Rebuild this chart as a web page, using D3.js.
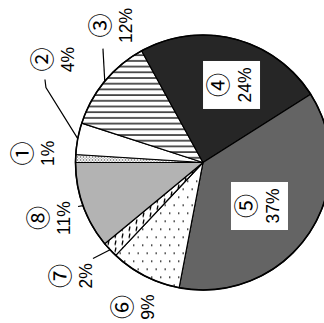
<!DOCTYPE html>
<html><head><meta charset="utf-8">
<script src="https://cdn.jsdelivr.net/npm/d3@7"></script>
<style>html,body{margin:0;padding:0;background:#fff}</style>
</head><body>
<svg id="c" width="324" height="323"></svg>
<script>
// ---- data ----
const categories = ["①","②","③","④","⑤","⑥","⑦","⑧"];
const values = [1, 4, 12, 24, 37, 9, 2, 11];
const valueLabels = ["1%","4%","12%","24%","37%","9%","2%","11%"];

// ---- layout / style ----
const W = 324, H = 323, cx = 203, cy = 162.5, R = 127.5;
const fills = ["url(#p1)", "#ffffff", "url(#p3)", "#262626", "#646464", "url(#p6)", "url(#p7)", "#b3b3b3"];
const labelR = [168, 180, 164, 82.6, 71.3, 159.7, 172.6, 161.8];
const labelDA = [1.3, 24.1, 17.1, 5.8, 3.4, -1.8, 2.1, -0.3];
const boxed = [false, false, false, true, true, false, false, false];
const leaders = {
  1: [[14.7, 174], [16.9, 178.5]],
  2: [[9.1, 151.6]],
  6: [[2.1, 146]],
  7: [[0.4, 132.5]]
};

const svg = d3.select("#c");
svg.append("rect").attr("width", W).attr("height", H).attr("fill", "#fff");
const defs = svg.append("defs");
let p = defs.append("pattern").attr("id", "p1").attr("patternUnits", "userSpaceOnUse").attr("width", 3).attr("height", 3);
p.append("rect").attr("width", 3).attr("height", 3).attr("fill", "#fff");
p.append("rect").attr("x", 0).attr("y", 0).attr("width", 1).attr("height", 1).attr("fill", "#333");
p.append("rect").attr("x", 1.5).attr("y", 1.5).attr("width", 1).attr("height", 1).attr("fill", "#333");
p = defs.append("pattern").attr("id", "p3").attr("patternUnits", "userSpaceOnUse").attr("width", 6).attr("height", 5.7);
p.append("rect").attr("width", 6).attr("height", 5.7).attr("fill", "#fff");
p.append("line").attr("x1", 0).attr("x2", 6).attr("y1", 1).attr("y2", 1).attr("stroke", "#000").attr("stroke-width", 1.3);
p = defs.append("pattern").attr("id", "p6").attr("patternUnits", "userSpaceOnUse").attr("width", 9).attr("height", 16);
p.append("rect").attr("width", 9).attr("height", 16).attr("fill", "#fff");
p.append("rect").attr("x", 2).attr("y", 2).attr("width", 1.4).attr("height", 1.4).attr("fill", "#000");
p.append("rect").attr("x", 6.5).attr("y", 10).attr("width", 1.4).attr("height", 1.4).attr("fill", "#000");
p = defs.append("pattern").attr("id", "p7").attr("patternUnits", "userSpaceOnUse").attr("width", 7).attr("height", 7);
p.append("rect").attr("width", 7).attr("height", 7).attr("fill", "#fff");
p.append("line").attr("x1", 4).attr("y1", 1).attr("x2", 3).attr("y2", 5.5).attr("stroke", "#000").attr("stroke-width", 1.3);

const pie = d3.pie().sort(null).value(d => d)
  .startAngle(-Math.PI / 2).endAngle(3 * Math.PI / 2);
const arcs = pie(values);
const arc = d3.arc().innerRadius(0).outerRadius(R);
const g = svg.append("g").attr("transform", `translate(${cx},${cy})`);

g.selectAll("path.slice").data(arcs).join("path")
  .attr("class", "slice")
  .attr("d", arc)
  .attr("fill", (d, i) => fills[i])
  .attr("stroke", "#000").attr("stroke-width", 1.2).attr("stroke-linejoin", "round");
g.append("circle").attr("r", R).attr("fill", "none").attr("stroke", "#000").attr("stroke-width", 1.6);

const deg = Math.PI / 180;
const polar = (a, r) => [Math.sin(a) * r, -Math.cos(a) * r];
const mid = d => (d.startAngle + d.endAngle) / 2;

Object.entries(leaders).forEach(([k, pts]) => {
  const d = arcs[+k];
  const m = mid(d);
  const line = [polar(m, R)].concat(pts.map(([da, r]) => polar(m + da * deg, r)));
  g.append("path").attr("d", d3.line()(line)).attr("fill", "none")
    .attr("stroke", "#000").attr("stroke-width", 1.2);
});

const fs = 17.5, lh = 13;
arcs.forEach((d, i) => {
  const [x, y] = polar(mid(d) + labelDA[i] * deg, labelR[i]);
  const lg = g.append("g").attr("transform", `translate(${x},${y}) rotate(-90)`);
  if (boxed[i]) {
    lg.append("rect").attr("x", -24).attr("y", -28.5).attr("width", 48).attr("height", 57).attr("fill", "#fff");
  }
  lg.append("text").attr("text-anchor", "middle")
    .attr("font-family", "'Noto Sans CJK JP', sans-serif").attr("font-size", 24).attr("fill", "#000")
    .attr("x", 0).attr("y", -lh).attr("dy", "0.36em").text(categories[i]);
  lg.append("text").attr("text-anchor", "middle")
    .attr("font-family", "'Liberation Sans', Arial, sans-serif").attr("font-size", fs).attr("fill", "#000")
    .attr("x", 0).attr("y", lh).attr("dy", "0.35em").text(valueLabels[i]);
});
</script>
</body></html>
